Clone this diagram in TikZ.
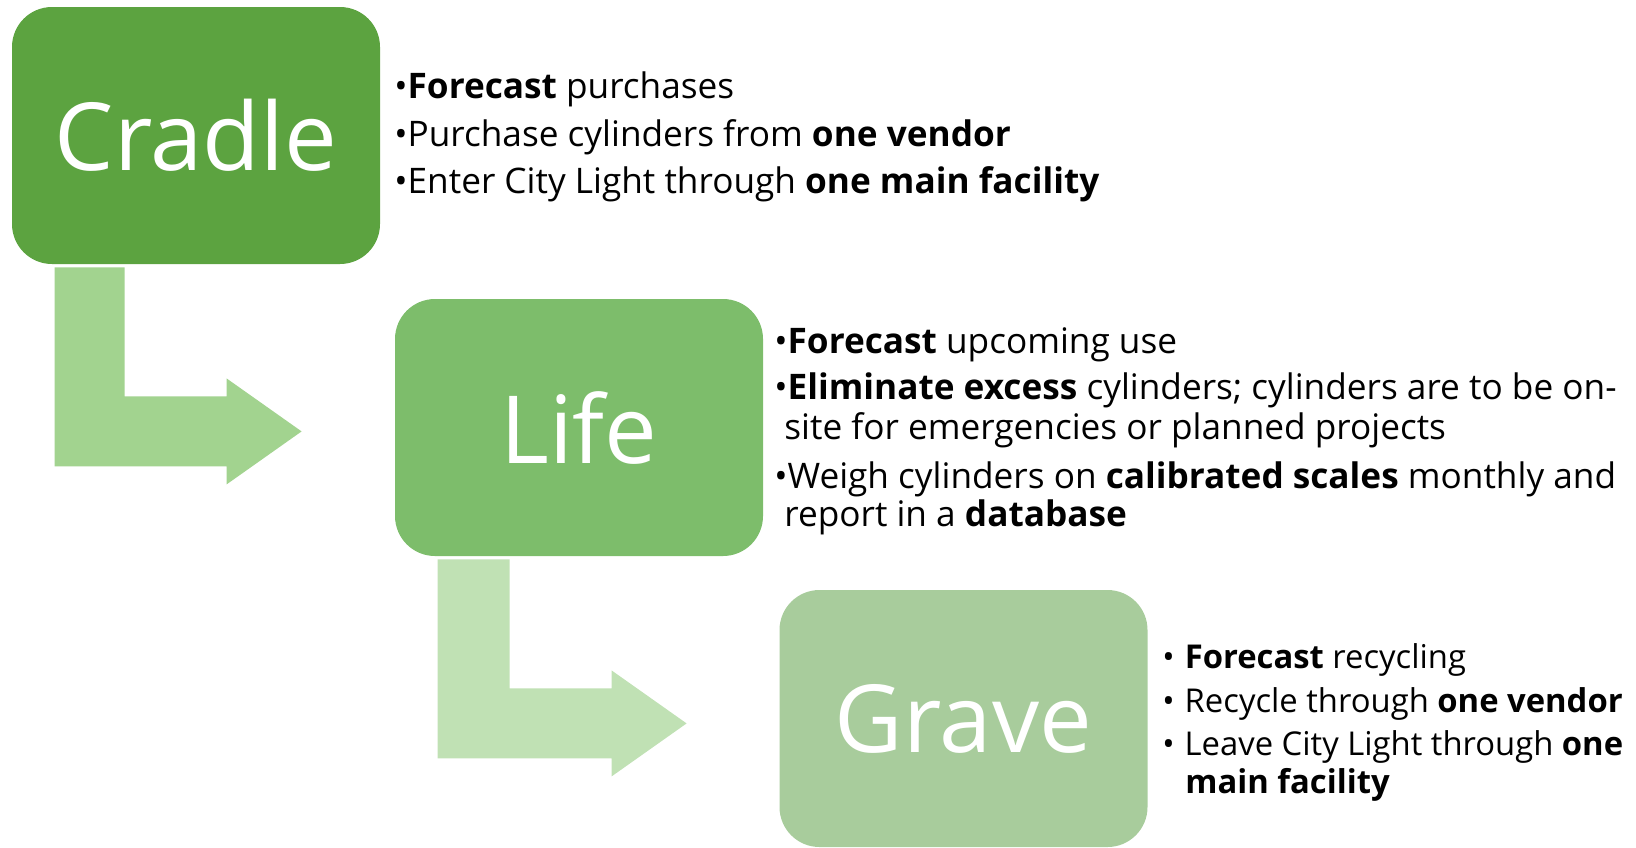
\documentclass[tikz,border=0pt]{standalone}
\usepackage{fontspec}
\setmainfont{Open Sans}
\usetikzlibrary{calc}

\definecolor{cradlegreen}{RGB}{92,163,64}
\definecolor{lifegreen}{RGB}{125,189,107}
\definecolor{gravegreen}{RGB}{168,204,156}
\definecolor{arrowone}{RGB}{162,211,143}
\definecolor{arrowtwo}{RGB}{192,225,180}

\begin{document}
\begin{tikzpicture}[x=0.5pt, y=-0.5pt,
  stage/.style={fill=#1, rounded corners=20pt, minimum width=184pt, minimum height=128.5pt,
    inner sep=0pt, text=white, font=\fontsize{47}{47}\selectfont},
  point/.style={anchor=base west, inner sep=0pt, font=\fontsize{17.6}{18}\selectfont},
  smallpoint/.style={point, font=\fontsize{16.4}{17}\selectfont}]

\useasboundingbox (0,0) rectangle (1636,847);

% the three stages
\node[stage=cradlegreen] (cradle) at (196,135.5) {Cradle};
\node[stage=lifegreen] (life) at (579,427.5) {Life};
\node[stage=gravegreen] (grave) at (963.5,718.5) {Grave};

% bent arrows between the stages
\fill[arrowone] ($(cradle.south west)+(43,3)$) -- ++(70,0) -- ++(0,129) -- ++(102,0) -- ++(0,-18)
  -- ++(75,53) -- ++(-75,53) -- ++(0,-18) -- ++(-172,0) -- cycle;
\fill[arrowtwo] ($(life.south west)+(43,3)$) -- ++(72,0) -- ++(0,129) -- ++(102,0) -- ++(0,-18)
  -- ++(75,53) -- ++(-75,53) -- ++(0,-18) -- ++(-174,0) -- cycle;

% cradle points
\node[point] (c1) at (394,98) {•\textbf{Forecast} purchases};
\node[point] (c2) at (394,146) {•Purchase cylinders from \textbf{one vendor}};
\node[point] (c3) at (394,193) {•Enter City Light through \textbf{one main facility}};

% life points
\node[point] (l1) at (774,353) {•\textbf{Forecast} upcoming use};
\node[point] (l2) at (774,399) {•\textbf{Eliminate excess} cylinders; cylinders are to be on-};
\node[point] (l3) at (784,439) {site for emergencies or planned projects};
\node[point] (l4) at (774,488) {•Weigh cylinders on \textbf{calibrated scales} monthly and};
\node[point] (l5) at (784,526) {report in a \textbf{database}};

% grave points
\node[smallpoint] (g1) at (1162,668) {•\hspace{5pt}\textbf{Forecast} recycling};
\node[smallpoint] (g2) at (1162,712) {•\hspace{5pt}Recycle through \textbf{one vendor}};
\node[smallpoint] (g3) at (1162,755) {•\hspace{5pt}Leave City Light through \textbf{one}};
\node[smallpoint] (g4) at (1185,793) {\textbf{main facility}};

\end{tikzpicture}
\end{document}
